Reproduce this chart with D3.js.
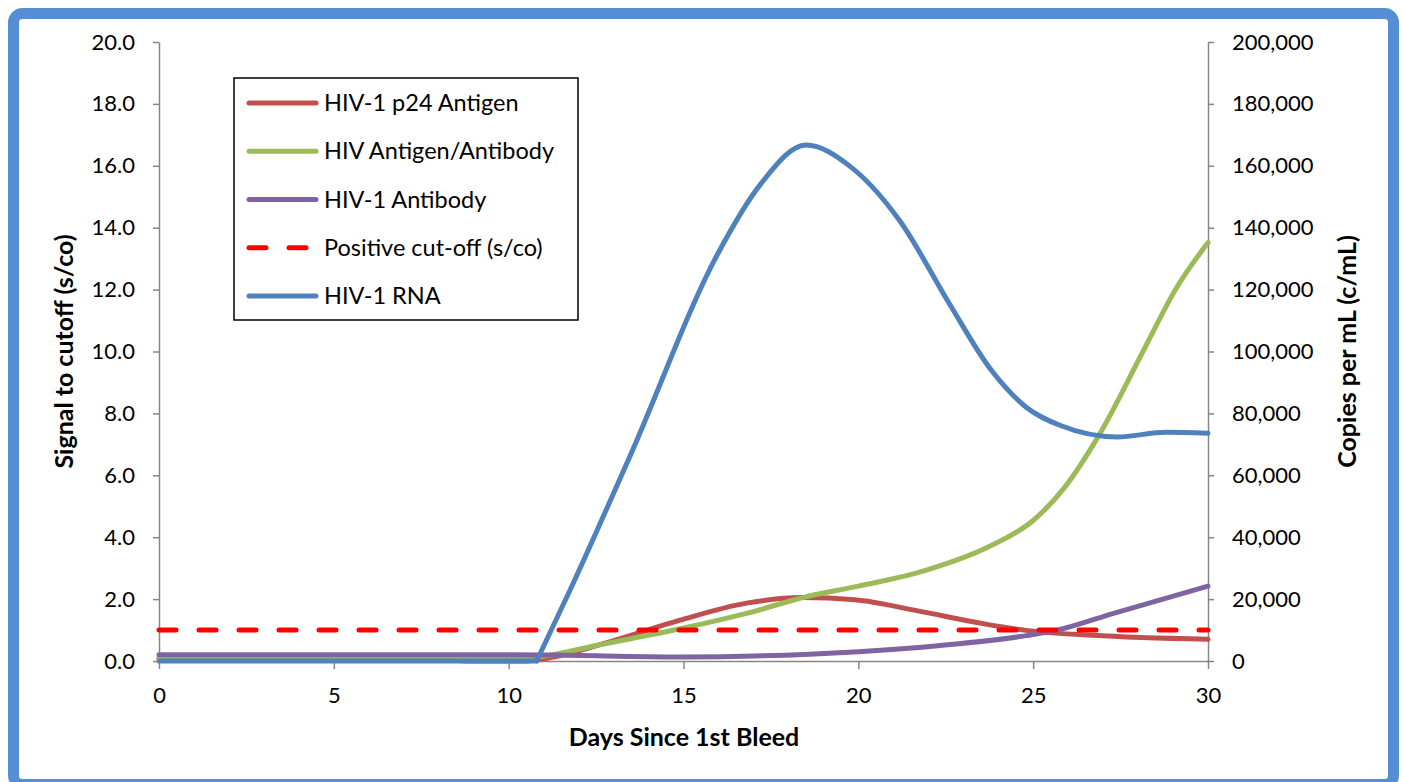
<!DOCTYPE html>
<html>
<head>
<meta charset="utf-8">
<script src="https://cdn.jsdelivr.net/npm/d3@7"></script>
<style>
  html, body { margin: 0; padding: 0; background: #ffffff; }
  svg { display: block; }
  text { font-family: Lato, "Open Sans", "Liberation Sans", sans-serif; fill: #000; }
</style>
</head>
<body>
<svg id="chart" width="1403" height="782"></svg>
<script>
// ---------- data ----------
const xTicks = [0, 5, 10, 15, 20, 25, 30];
const leftTicks = [0, 2, 4, 6, 8, 10, 12, 14, 16, 18, 20];
const rightTicks = [0, 20000, 40000, 60000, 80000, 100000, 120000, 140000, 160000, 180000, 200000];

const p24Days   = [0, 5, 7.5, 9, 10.5, 11.2, 13.0, 14.9, 16.8, 18.4, 19.9, 21.7, 23.6, 24.8, 26.7, 30];
const p24Values = [0.1, 0.1, 0.08, 0.0, 0.0, 0.11, 0.66, 1.32, 1.87, 2.05, 1.98, 1.62, 1.2, 0.99, 0.83, 0.7];

const agabDays   = [0, 5, 8, 10, 11.0, 12.5, 14.9, 16.8, 18.6, 20.0, 21.9, 23.8, 25.0, 25.9, 26.9, 28.1, 29.1, 30];
const agabValues = [0.1, 0.1, 0.08, 0.05, 0.15, 0.5, 1.04, 1.54, 2.1, 2.42, 2.92, 3.73, 4.54, 5.61, 7.33, 9.91, 12.06, 13.52];

const abDays   = [0, 5, 10, 11.2, 14.9, 18.6, 20.0, 22.35, 24.8, 25.7, 27.3, 30];
const abValues = [0.2, 0.2, 0.2, 0.19, 0.13, 0.22, 0.3, 0.5, 0.82, 1.0, 1.54, 2.42];

const cutoffDays   = [0, 30];
const cutoffValues = [1, 1];

const rnaDays   = [0, 5, 10.8, 11.8, 13.5, 16.0, 17.2, 18.5, 19.8, 21.2, 22.6, 23.8, 24.8, 25.8, 27.4, 28.8, 30];
const rnaValues = [0, 0, 0, 24000, 67000, 132000, 154000, 166700, 159500, 142000, 115500, 94000, 82000, 76000, 72400, 73900, 73600];
const rnaOnsetDay = 10.8; // RNA first detected (curve breaks upward here)

const legendLabels = ["HIV-1 p24 Antigen", "HIV Antigen/Antibody", "HIV-1 Antibody", "Positive cut-off (s/co)", "HIV-1 RNA"];

// ---------- layout ----------
const svg = d3.select("#chart");
const W = 1403, H = 782;
const plot = { left: 159, right: 1208, top: 42, bottom: 661 };
const axisColor = "#868686";
const colors = { p24: "#C0504D", agab: "#9BBB59", ab: "#8064A2", cutoff: "#FF0000", rna: "#4F81BD" };

const x = d3.scaleLinear().domain([0, 30]).range([plot.left, plot.right]);
const yL = d3.scaleLinear().domain([0, 20]).range([plot.bottom, plot.top]);
const yR = d3.scaleLinear().domain([0, 200000]).range([plot.bottom, plot.top]);

// background
svg.append("rect").attr("x", 0).attr("y", 0).attr("width", W).attr("height", H).attr("fill", "#fff");

// frame
svg.append("rect")
  .attr("x", 13.5).attr("y", 13.5)
  .attr("width", 1380).attr("height", 771)
  .attr("rx", 9).attr("ry", 9)
  .attr("fill", "none")
  .attr("stroke", "#558ED5")
  .attr("stroke-width", 11);

// axes
function styleAxis(g) {
  g.selectAll(".domain").attr("stroke", axisColor).attr("stroke-width", 1.5);
  g.selectAll(".tick line").attr("stroke", axisColor).attr("stroke-width", 1.5);
  g.selectAll(".tick text").attr("font-size", 22).attr("fill", "#000")
    .style("font-family", "Lato, 'Open Sans', sans-serif");
}

const gLeft = svg.append("g").attr("transform", `translate(${plot.left},0)`)
  .call(d3.axisLeft(yL).tickValues(leftTicks).tickFormat(d3.format(".1f")).tickSize(6).tickSizeOuter(0).tickPadding(18));
styleAxis(gLeft);

const gRight = svg.append("g").attr("transform", `translate(${plot.right},0)`)
  .call(d3.axisRight(yR).tickValues(rightTicks).tickFormat(d3.format(",")).tickSize(6).tickSizeOuter(0).tickPadding(18));
styleAxis(gRight);

const gBottom = svg.append("g").attr("transform", `translate(0,${plot.bottom})`)
  .call(d3.axisBottom(x).tickValues(xTicks).tickFormat(d3.format("d")).tickSize(8).tickSizeOuter(0).tickPadding(18));
styleAxis(gBottom);

// axis titles
const titleSize = 25;
svg.append("text")
  .attr("transform", `translate(73,${(plot.top + plot.bottom) / 2}) rotate(-90)`)
  .attr("text-anchor", "middle")
  .attr("font-size", titleSize).attr("font-weight", "bold")
  .text("Signal to cutoff (s/co)");

svg.append("text")
  .attr("transform", `translate(1356,${(plot.top + plot.bottom) / 2}) rotate(-90)`)
  .attr("text-anchor", "middle")
  .attr("font-size", titleSize).attr("font-weight", "bold")
  .text("Copies per mL (c/mL)");

svg.append("text")
  .attr("x", 684).attr("y", 746)
  .attr("text-anchor", "middle")
  .attr("font-size", titleSize).attr("font-weight", "bold")
  .text("Days Since 1st Bleed");

// series
function zip(days, vals) { return days.map((d, i) => [d, vals[i]]); }
const curve = d3.curveMonotoneX;
const lineL = d3.line().x(d => x(d[0])).y(d => yL(d[1])).curve(curve);
const lineR = d3.line().x(d => x(d[0])).y(d => yR(d[1])).curve(curve);

const gSeries = svg.append("g");
function drawLine(gen, data, color, dash) {
  const p = gSeries.append("path")
    .attr("d", gen(data))
    .attr("fill", "none")
    .attr("stroke", color)
    .attr("stroke-width", 5)
    .attr("stroke-linecap", "round")
    .attr("stroke-linejoin", "round");
  if (dash) p.attr("stroke-dasharray", dash);
}
drawLine(lineL, zip(p24Days, p24Values), colors.p24);
drawLine(lineL, zip(agabDays, agabValues), colors.agab);
drawLine(lineL, zip(abDays, abValues), colors.ab);
drawLine(d3.line().x(d => x(d[0])).y(d => yL(d[1])), zip(cutoffDays, cutoffValues), colors.cutoff, "17,23");
const rnaData = zip(rnaDays, rnaValues);
drawLine(lineR, rnaData.filter(d => d[0] <= rnaOnsetDay), colors.rna);
drawLine(lineR, rnaData.filter(d => d[0] >= rnaOnsetDay), colors.rna);

// legend
const lg = svg.append("g");
lg.append("rect")
  .attr("x", 234).attr("y", 78).attr("width", 344).attr("height", 242)
  .attr("fill", "#fff").attr("stroke", "#000").attr("stroke-width", 1.5);
const legendColors = [colors.p24, colors.agab, colors.ab, colors.cutoff, colors.rna];
const rowY = d3.scaleLinear().domain([0, 4]).range([103, 296]);
legendLabels.forEach((lab, i) => {
  const yy = rowY(i);
  const ln = lg.append("line")
    .attr("x1", 249).attr("x2", 316).attr("y1", yy).attr("y2", yy)
    .attr("stroke", legendColors[i]).attr("stroke-width", 5).attr("stroke-linecap", "round");
  if (i === 3) ln.attr("x2", 308).attr("stroke-dasharray", "17,23");
  lg.append("text")
    .attr("x", 324).attr("y", yy).attr("dy", "0.35em")
    .attr("font-size", 23.5)
    .text(lab);
});
</script>
</body>
</html>
